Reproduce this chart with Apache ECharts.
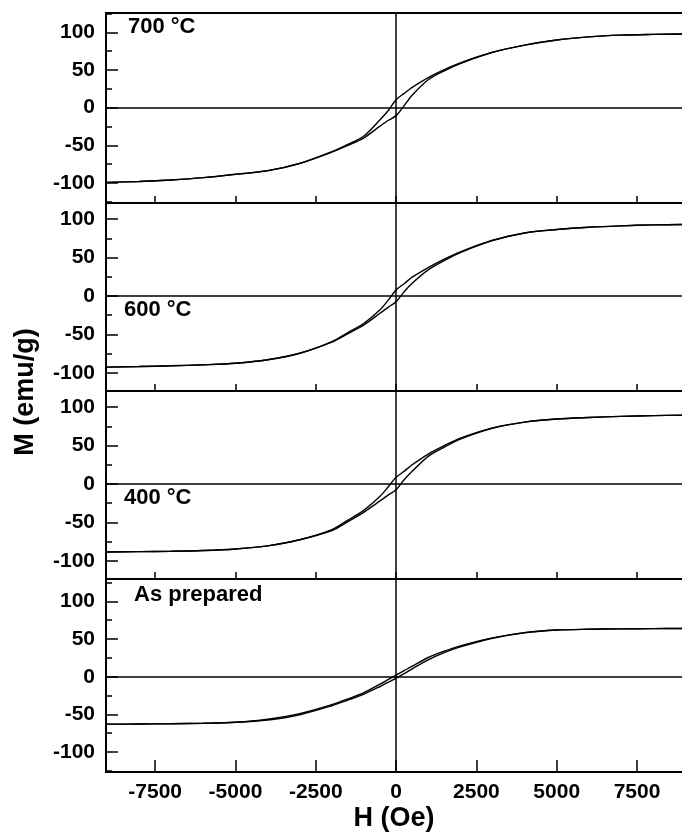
<!DOCTYPE html>
<html>
<head>
<meta charset="utf-8">
<script src="https://cdn.jsdelivr.net/npm/echarts@6/dist/echarts.min.js"></script>
<style>
  html, body { margin: 0; padding: 0; background: #fff; }
  #chart { width: 682px; height: 833px; }
</style>
</head>
<body>
<div id="chart"></div>
<script>
// Applied field H (Oe) at which each branch is sampled
const fieldOe = [-9000, -8000, -7000, -6000, -5000, -4000, -3000, -2000, -1500, -1000, -500, -250,
                 0, 250, 500, 1000, 1500, 2000, 3000, 4000, 5000, 6000, 7000, 8000, 9000];

// Magnetization M (emu/g): "down" = field sweeping from +H to -H, "up" = from -H to +H
const m700Down = [-99, -97.8, -95.8, -92.8, -88.3, -83.5, -73.8, -58.3, -48.5, -37.5, -16, -4,
                  10.5, 19, 27, 40, 50.5, 59.5, 73.5, 83, 89.8, 94, 96.3, 97.2, 97.7];
const m700Up   = [-99, -97.8, -95.8, -92.8, -88.5, -83.7, -74, -59, -50, -40, -24.5, -17,
                  -10.5, 2.7, 16.5, 37, 49, 58.5, 73.3, 83, 89.8, 94, 96.3, 97.2, 97.7];

const m600Down = [-92.5, -91.8, -90.8, -89.5, -87.5, -83, -74.5, -59.3, -47.5, -35.5, -18, -5.7,
                  7.8, 16, 24.5, 37, 48, 57.5, 72.5, 82, 86.5, 89.5, 91.3, 92.5, 93];
const m600Up   = [-92.5, -91.8, -90.8, -89.5, -87.5, -83, -74.5, -60, -49, -37.5, -22.5, -14.8,
                  -7.4, 5.5, 16.5, 34, 46, 56.5, 72, 82, 86.5, 89.5, 91.3, 92.5, 93];

const m400Down = [-88.5, -88, -87.5, -86.5, -84.5, -80.5, -72.5, -59.3, -47, -34, -16, -4,
                  8.7, 16.5, 25, 39, 50, 59.7, 73, 80.5, 84.5, 86.5, 88, 89, 89.5];
const m400Up   = [-88.5, -88, -87.5, -86.5, -84.5, -80.5, -72.5, -60.5, -49, -36.5, -22, -14.5,
                  -7.4, 5.5, 16.5, 36, 48, 58.5, 72.5, 80.5, 84.5, 86.5, 88, 89, 89.5];

const mPrepDown = [-63, -62.8, -62.5, -61.8, -60.5, -56.5, -49, -37, -29.5, -21, -10, -4,
                   2, 8, 14, 25.5, 34, 41, 51.5, 58.5, 62, 63, 63.5, 63.8, 64];
const mPrepUp   = [-63, -62.8, -62.5, -61.8, -60.5, -57.5, -50.5, -38.5, -31, -23, -13, -7.5,
                   -2, 4, 10.5, 22.5, 32, 39.5, 51, 58.4, 62, 63, 63.5, 63.8, 64];

const panelTitles = ['700 °C', '600 °C', '400 °C', 'As prepared'];
const panelDown = [m700Down, m600Down, m400Down, mPrepDown];
const panelUp = [m700Up, m600Up, m400Up, mPrepUp];

// Axis ticks
const xTickValues = [-7500, -5000, -2500, 0, 2500, 5000, 7500];
const yTickValues = [-100, -50, 0, 50, 100];
const yMinorValues = [-125, -75, -25, 25, 75, 125];

// ---- layout ----
const FONT = '"Liberation Sans", Arial, sans-serif';
const xRange = [-9030, 8900];
const gridBoxes = [
  { top: 13, height: 190, yMin: -126.4, yMax: 125.6 },
  { top: 203, height: 188, yMin: -123.6, yMax: 121 },
  { top: 391, height: 188, yMin: -123.6, yMax: 121 },
  { top: 579, height: 193, yMin: -126.5, yMax: 129.7 }
];
const titlePos = [[128, 16], [124, 299], [124, 487], [134, 584]];

const axisColor = '#000';
const plainNumber = v => String(v);
const grids = [], xAxes = [], yAxes = [], series = [], titles = [];

gridBoxes.forEach((b, g) => {
  grids.push({ left: 106, right: 0, top: b.top, height: b.height, containLabel: false });
  const isBottom = g === gridBoxes.length - 1;

  const xIndex = xAxes.length;
  xAxes.push({
    gridIndex: g, type: 'value', min: xRange[0], max: xRange[1], position: 'bottom',
    axisLine: { show: true, onZero: false, lineStyle: { color: axisColor, width: 2 } },
    axisTick: { show: true, inside: true, length: isBottom ? 12 : 7, customValues: xTickValues,
                lineStyle: { color: axisColor, width: 1.5 } },
    axisLabel: { show: isBottom, customValues: xTickValues, formatter: plainNumber, margin: 10,
                 fontSize: 21, fontWeight: 'bold', fontFamily: FONT, color: '#000' },
    splitLine: { show: false },
    name: isBottom ? 'H (Oe)' : '', nameLocation: 'middle', nameGap: 33,
    nameTextStyle: { fontSize: 27, fontWeight: 'bold', fontFamily: FONT, color: '#000' }
  });
  if (g === 0) {
    // frame line along the top of the first panel
    xAxes.push({
      gridIndex: 0, type: 'value', min: xRange[0], max: xRange[1], position: 'top',
      axisLine: { show: true, onZero: false, lineStyle: { color: axisColor, width: 2 } },
      axisTick: { show: false }, axisLabel: { show: false }, splitLine: { show: false }
    });
  }

  const yMainIndex = yAxes.length;
  yAxes.push({
    gridIndex: g, type: 'value', min: b.yMin, max: b.yMax, position: 'left',
    axisLine: { show: true, onZero: false, lineStyle: { color: axisColor, width: 2 } },
    axisTick: { show: true, inside: true, length: 12, customValues: yTickValues,
                lineStyle: { color: axisColor, width: 1.5 } },
    axisLabel: { customValues: yTickValues, formatter: plainNumber, margin: 11, fontSize: 21,
                 fontWeight: 'bold', fontFamily: FONT, color: '#000' },
    splitLine: { show: false }
  });
  yAxes.push({
    gridIndex: g, type: 'value', min: b.yMin, max: b.yMax, position: 'left', offset: 0,
    axisLine: { show: false, onZero: false },
    axisTick: { show: true, inside: true, length: 6,
                customValues: yMinorValues.filter(v => v > b.yMin && v < b.yMax),
                lineStyle: { color: axisColor, width: 1.5 } },
    axisLabel: { show: false }, splitLine: { show: false }
  });

  // hysteresis loop: descending branch (+H -> -H) and ascending branch (-H -> +H)
  const down = fieldOe.map((h, i) => [h, panelDown[g][i]]).reverse();
  const up = fieldOe.map((h, i) => [h, panelUp[g][i]]);
  const branchStyle = {
    type: 'line', xAxisIndex: xIndex, yAxisIndex: yMainIndex,
    showSymbol: false, smooth: 0.3, clip: true,
    lineStyle: { color: '#000', width: 1.4 }
  };
  series.push(Object.assign({}, branchStyle, {
    data: down,
    markLine: {
      silent: true, symbol: ['none', 'none'], label: { show: false },
      lineStyle: { color: '#000', width: 1.5, type: 'solid' },
      emphasis: { disabled: true },
      data: [{ yAxis: 0 }, { xAxis: 0 }]
    }
  }));
  series.push(Object.assign({}, branchStyle, { data: up }));

  titles.push({
    text: panelTitles[g], left: titlePos[g][0], top: titlePos[g][1], padding: 0,
    textStyle: { fontSize: 22, fontWeight: 'bold', fontFamily: FONT, color: '#000' }
  });
});

const chart = echarts.init(document.getElementById('chart'), null, { renderer: 'canvas' });
chart.setOption({
  animation: false,
  backgroundColor: '#fff',
  title: titles,
  grid: grids,
  xAxis: xAxes,
  yAxis: yAxes,
  series: series,
  graphic: [{
    type: 'text', x: 26, y: 392, rotation: Math.PI / 2,
    style: { text: 'M (emu/g)', font: 'bold 27px ' + FONT, fill: '#000',
             textAlign: 'center', textVerticalAlign: 'middle' }
  }]
});
</script>
</body>
</html>
